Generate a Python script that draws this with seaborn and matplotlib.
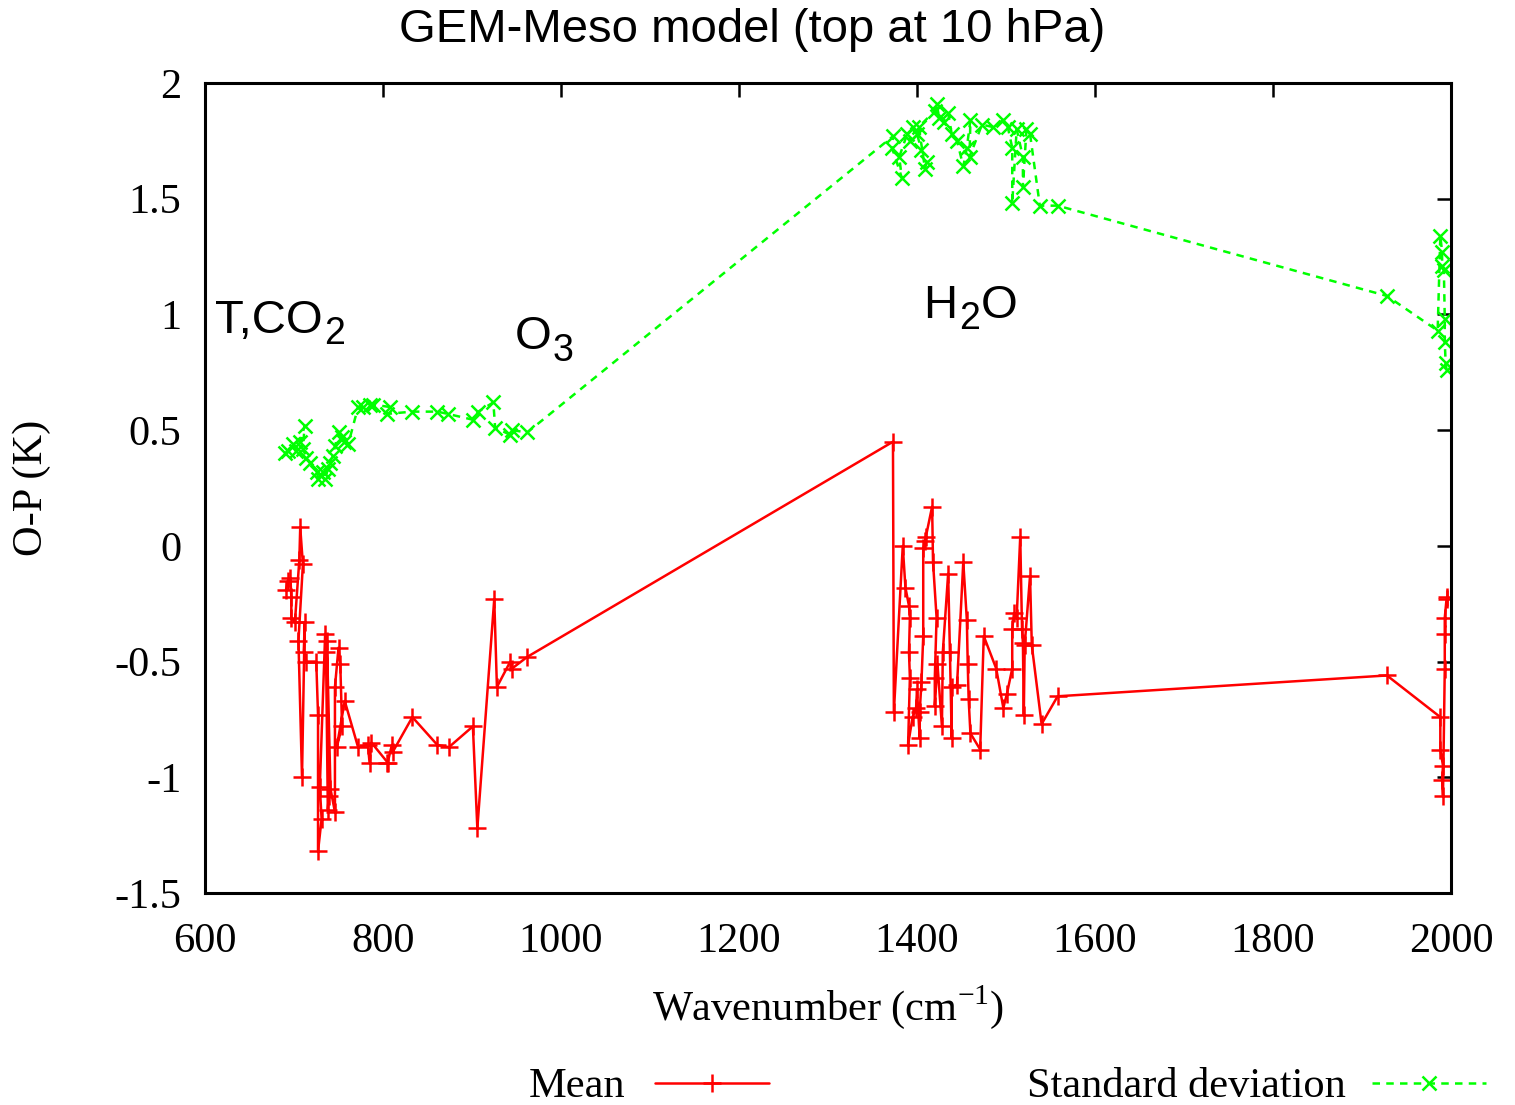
import matplotlib
matplotlib.use("Agg")
import matplotlib.pyplot as plt
import seaborn as sns
import numpy as np
import pandas as pd
from matplotlib.lines import Line2D
from matplotlib.ticker import FuncFormatter

# ---- data ----
mean_x = [691, 693, 696, 697, 697, 701, 706, 707, 710, 705, 709, 712, 711, 714, 725,
          727, 727, 731, 729, 735, 736, 738, 739, 737, 741, 746, 746, 750, 752, 754, 748,
          757, 772, 783, 785, 787, 806, 805, 810, 811, 833, 861, 874, 901, 906, 925, 928,
          943, 945, 962,
          1373, 1374, 1384, 1387, 1391, 1392, 1391, 1392, 1390, 1395, 1399, 1400, 1403,
          1403, 1405, 1407, 1407, 1409, 1410, 1417, 1418, 1422, 1420, 1420, 1423, 1428,
          1429, 1435, 1437, 1439, 1439, 1445, 1452, 1456, 1457, 1458, 1460, 1471, 1475,
          1489, 1497, 1501, 1507, 1507, 1509, 1512, 1516, 1518, 1519, 1520, 1521, 1527,
          1529, 1540, 1558,
          1928, 1988, 1988, 1991, 1990, 1991, 1993, 1993, 1993, 1995, 1996]
mean_y = [-0.19, -0.15, -0.14, -0.22, -0.31, -0.33, -0.06, 0.08, -0.08, -0.41, -1.00,
          -0.33, -0.46, -0.50, -0.50, -0.73, -1.32, -1.18, -1.04, -0.38, -0.46, -1.14,
          -1.08, -0.41, -1.05, -1.15, -0.61, -0.44, -0.51, -0.78, -0.87, -0.67, -0.87,
          -0.86, -0.94, -0.85, -0.94, -0.94, -0.86, -0.89, -0.74, -0.86, -0.87, -0.78,
          -1.22, -0.23, -0.61, -0.50, -0.53, -0.48,
          0.45, -0.72, 0.00, -0.18, -0.26, -0.31, -0.46, -0.57, -0.86, -0.74, -0.70,
          -0.62, -0.83, -0.72, -0.59, -0.39, -0.01, 0.02, 0.04, 0.17, -0.07, -0.31,
          -0.57, -0.69, -0.51, -0.78, -0.46, -0.12, -0.46, -0.83, -0.61, -0.60, -0.07,
          -0.32, -0.51, -0.66, -0.81, -0.88, -0.39, -0.53, -0.70, -0.64, -0.53, -0.36,
          -0.29, -0.31, 0.04, -0.36, -0.42, -0.73, -0.43, -0.13, -0.43, -0.77, -0.65,
          -0.56, -0.74, -0.88, -0.95, -1.01, -1.08, -0.53, -0.38, -0.31, -0.23, -0.22]

std_x = [690, 693, 699, 702, 707, 712, 710, 714, 718, 726, 727, 733, 735, 738, 740,
         744, 746, 750, 754, 756, 761, 772, 778, 785, 789, 808, 804, 833, 861, 873,
         901, 907, 924, 926, 943, 945, 962,
         1373, 1372, 1383, 1380, 1389, 1392, 1395, 1400, 1405, 1411, 1409, 1402, 1420,
         1422, 1425, 1430, 1435, 1439, 1445, 1452, 1456, 1460, 1459, 1473, 1485, 1497,
         1502, 1507, 1507, 1512, 1519, 1519, 1523, 1527, 1538, 1558,
         1928, 1985, 1988, 1990, 1990, 1992, 1993, 1993, 1994, 1995]
std_y = [0.40, 0.41, 0.44, 0.41, 0.45, 0.52, 0.42, 0.38, 0.36, 0.32, 0.29, 0.32, 0.29,
         0.33, 0.36, 0.39, 0.43, 0.49, 0.47, 0.45, 0.44, 0.60, 0.60, 0.61, 0.61, 0.60,
         0.57, 0.58, 0.58, 0.57, 0.545, 0.58, 0.62, 0.51, 0.48, 0.50, 0.49,
         1.77, 1.72, 1.59, 1.68, 1.78, 1.75, 1.81, 1.78, 1.71, 1.66, 1.63, 1.81, 1.88,
         1.91, 1.85, 1.83, 1.87, 1.78, 1.75, 1.64, 1.72, 1.84, 1.68, 1.82, 1.81, 1.84,
         1.81, 1.72, 1.48, 1.80, 1.68, 1.55, 1.80, 1.78, 1.47, 1.47,
         1.08, 0.93, 1.34, 1.27, 1.21, 1.19, 0.98, 0.88, 0.79, 0.76]

x_ticks = [600, 800, 1000, 1200, 1400, 1600, 1800, 2000]
y_ticks = [-1.5, -1, -0.5, 0, 0.5, 1, 1.5, 2]

title = "GEM-Meso model (top at 10 hPa)"
mean_label = "Mean"
std_label = "Standard deviation"

# ---- style ----
sns.set_theme(style="white")
plt.rcParams["font.family"] = ["Liberation Serif", "DejaVu Serif"]
plt.rcParams["axes.unicode_minus"] = False
plt.rcParams["text.color"] = "black"
plt.rcParams["axes.labelcolor"] = "black"

FS = 30.5
SFS = 34
SUB = 27

fig = plt.figure(figsize=(15.15, 11.05), dpi=100)
ax = fig.add_axes([205 / 1515, 1 - 893 / 1105, (1451 - 205) / 1515, (893 - 83) / 1105])

mean_df = pd.DataFrame({"x": mean_x, "y": mean_y})
std_df = pd.DataFrame({"x": std_x, "y": std_y})

sns.lineplot(data=mean_df, x="x", y="y", sort=False, estimator=None, ax=ax,
             color="#ff0000", linewidth=1.8, marker="+", markersize=13,
             markeredgewidth=1.8, markeredgecolor="#ff0000")
sns.lineplot(data=std_df, x="x", y="y", sort=False, estimator=None, ax=ax,
             color="#00ff00", linewidth=1.8, marker="x", markersize=10,
             markeredgewidth=1.8, markeredgecolor="#00ff00")
ax.lines[-1].set_linestyle((0, (3, 2.5)))

ax.set_xlim(600, 2000)
ax.set_ylim(-1.5, 2)
ax.set_xticks(x_ticks)
ax.set_yticks(y_ticks)
fmt = FuncFormatter(lambda v, p: "%g" % v)
ax.xaxis.set_major_formatter(fmt)
ax.yaxis.set_major_formatter(fmt)
ax.tick_params(direction="in", length=10, width=1.8, top=True, right=True,
               labelsize=FS, pad=17, colors="black")
ax.tick_params(axis="x", pad=21)
for s in ax.spines.values():
    s.set_linewidth(2.2)
    s.set_color("black")

ax.set_xlabel(r"Wavenumber (cm$^{\mathregular{-1}}$)", fontsize=FS, va="center")
ax.set_ylabel("O-P (K)", fontsize=FS, va="center")
ax.xaxis.set_label_coords((828 - 205) / 1246, (893 - 1007) / 810)
ax.yaxis.set_label_coords((32 - 205) / 1246, 0.5)

sans = ["Liberation Sans", "DejaVu Sans"]
fig.text(752 / 1515, 1 - 30 / 1105, title, ha="center", va="center",
         fontsize=SFS, family=sans, color="black")


def sub_after(artist, s):
    return ax.annotate(s, xy=(1, 0), xycoords=artist, xytext=(1, -1),
                       textcoords="offset points", fontsize=SUB, family=sans,
                       va="baseline", ha="left")


t1 = ax.text(611, 0.92, "T,CO", fontsize=SFS, family=sans, va="baseline")
sub_after(t1, "2")
t2 = ax.text(948, 0.85, "O", fontsize=SFS, family=sans, va="baseline")
sub_after(t2, "3")
t3 = ax.text(1407, 0.985, "H", fontsize=SFS, family=sans, va="baseline")
s3 = sub_after(t3, "2")
ax.annotate("O", xy=(1, 0), xycoords=(s3, t3), xytext=(1, 0),
            textcoords="offset points", fontsize=SFS, family=sans,
            va="bottom", ha="left")

h_mean = Line2D([], [], color="#ff0000", lw=1.8, marker="+", markersize=13, mew=1.8)
h_std = Line2D([], [], color="#00ff00", lw=1.8, marker="x", markersize=10, mew=1.8,
               linestyle=(0, (3, 2.5)))
yleg = 1 - 1087 / 1105
fig.legend([h_mean], [mean_label], loc="center right",
           bbox_to_anchor=(769 / 1515, yleg), frameon=False, markerfirst=False,
           fontsize=FS, handlelength=2.7, handletextpad=0.7, borderpad=0,
           borderaxespad=0, numpoints=1)
fig.legend([h_std], [std_label], loc="center right",
           bbox_to_anchor=(1486 / 1515, yleg), frameon=False, markerfirst=False,
           fontsize=FS, handlelength=2.7, handletextpad=0.6, borderpad=0,
           borderaxespad=0, numpoints=1)

fig.savefig("out.png", dpi=100, facecolor="white")
